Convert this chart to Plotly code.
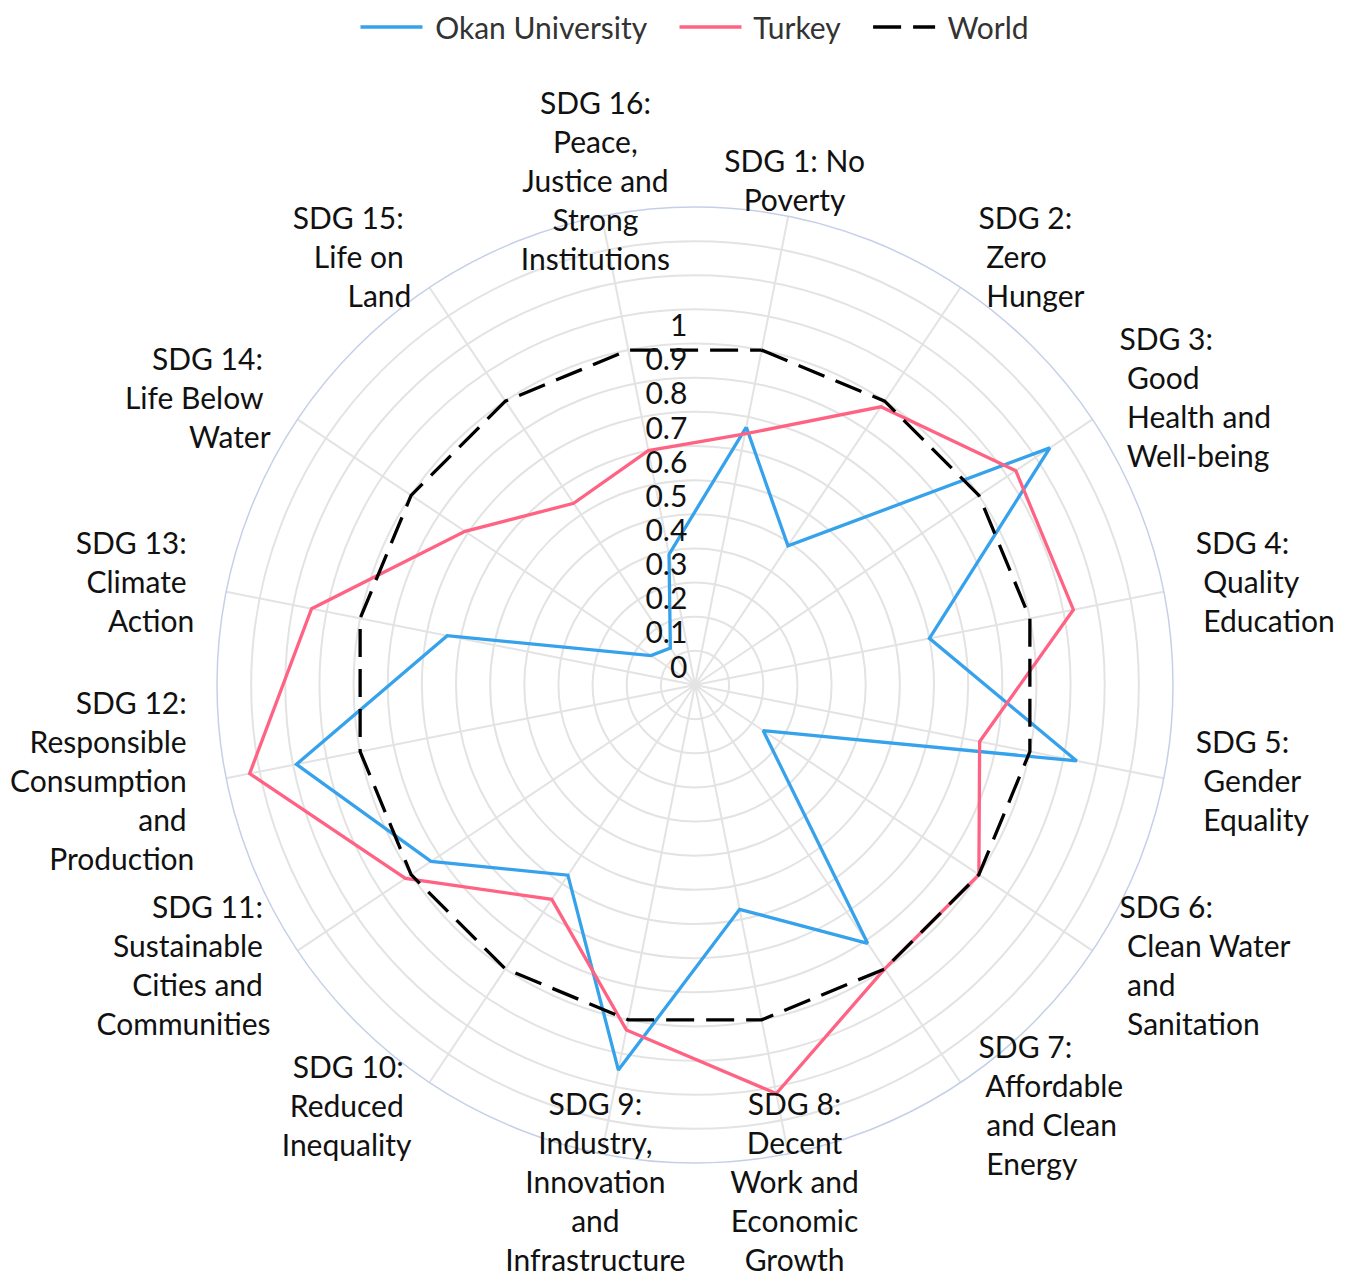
import math
import plotly.graph_objects as go

# ---------------- data ----------------
categories = [
    "SDG 1: No<br>Poverty",
    "SDG 2:<br>\u00a0Zero<br>\u00a0Hunger",
    "SDG 3:<br>\u00a0Good<br>\u00a0Health and<br>\u00a0Well-being",
    "SDG 4:<br>\u00a0Quality<br>\u00a0Education",
    "SDG 5:<br>\u00a0Gender<br>\u00a0Equality",
    "SDG 6:<br>\u00a0Clean Water<br>\u00a0and<br>\u00a0Sanitation",
    "SDG 7:<br>\u00a0Affordable<br>\u00a0and Clean<br>\u00a0Energy",
    "SDG 8:<br>Decent<br>Work and<br>Economic<br>Growth",
    "SDG 9:<br>Industry,<br>Innovation<br>and<br>Infrastructure",
    "SDG 10:\u00a0<br>Reduced\u00a0<br>Inequality",
    "SDG 11:\u00a0<br>Sustainable\u00a0<br>Cities and\u00a0<br>Communities",
    "SDG 12:\u00a0<br>Responsible\u00a0<br>Consumption\u00a0<br>and\u00a0<br>Production",
    "SDG 13:\u00a0<br>Climate\u00a0<br>Action",
    "SDG 14:\u00a0<br>Life Below\u00a0<br>Water",
    "SDG 15:\u00a0<br>Life on\u00a0<br>Land",
    "SDG 16:<br>Peace,<br>Justice and<br>Strong<br>Institutions",
]
okan   = [0.77, 0.49, 1.25, 0.70, 1.14, 0.24, 0.91, 0.67, 1.15, 0.67, 0.93, 1.19, 0.74, 0.155, 0.13, 0.39]
turkey = [0.75, 0.98, 1.13, 1.13, 0.85, 1.00, 1.00, 1.22, 1.03, 0.755, 1.02, 1.33, 1.145, 0.81, 0.64, 0.70]
world  = [1.0] * 16
series_names = ["Okan University", "Turkey", "World"]
radial_ticks = [0, 0.1, 0.2, 0.3, 0.4, 0.5, 0.6, 0.7, 0.8, 0.9, 1]
radial_tick_labels = ["0", "0.1", "0.2", "0.3", "0.4", "0.5", "0.6", "0.7", "0.8", "0.9", "1"]
grid_vals = [0.1 * k for k in range(1, 15)]

# ---------------- geometry / style ----------------
n = len(categories)
step = 360.0 / n
angles = [step * (i + 0.5) for i in range(n)]
R_MAX = 1.4            # outer circle of the chart
LABEL_R = 1.495        # where category labels sit
FONT = "Lato, 'Noto Sans', sans-serif"

W, H = 1349, 1278
CX, CY = 687, 677      # chart centre in figure pixels (page body adds 8px)
R_PX = 478             # outer circle radius in pixels
HALF = min(CY, H - CY, CX, W - CX)   # half-size of the outer (label) subplot
M_L, M_R = CX - HALF, W - (CX + HALF)
M_T, M_B = CY - HALF, H - (CY + HALF)
PLOT_H = 2 * HALF
f = R_PX / HALF
inner_dom = [0.5 - f / 2, 0.5 + f / 2]
R_OUTER = R_MAX * HALF / R_PX


def closed(v):
    return list(v) + [v[0]]


def label_pos(a):
    s = math.sin(math.radians(a))
    if abs(s) < 0.3:
        return "middle center"
    return "middle right" if s > 0 else "middle left"


theta_closed = closed(angles)
fig = go.Figure()

styles = [
    dict(color="#36a2eb", width=3.3),
    dict(color="#ff6384", width=3.3),
    dict(color="#000000", width=3.3, dash="28px,12px"),
]
pad = "\u00a0" * 3
for name, vals, st in zip(series_names, [okan, turkey, world], styles):
    fig.add_trace(go.Scatterpolar(
        r=closed(vals), theta=theta_closed, mode="lines",
        name="\u00a0" + name + (pad if name != "World" else ""),
        line=st, hoverinfo="skip", subplot="polar"))

# category labels around the chart (on a larger, invisible polar subplot)
fig.add_trace(go.Scatterpolar(
    r=[LABEL_R] * n, theta=angles, mode="text", text=categories,
    textposition=[label_pos(a) for a in angles],
    textfont=dict(family=FONT, size=30, color="#111111"),
    showlegend=False, hoverinfo="skip", subplot="polar2"))

# radial tick labels
fig.add_trace(go.Scatterpolar(
    r=radial_ticks, theta=[0] * len(radial_ticks), mode="text",
    text=[t + "\u00a0" for t in radial_tick_labels], textposition="top left",
    textfont=dict(family=FONT, size=30, color="#111111"),
    showlegend=False, hoverinfo="skip", subplot="polar2"))

fig.update_layout(
    width=W, height=H,
    margin=dict(l=M_L, r=M_R, t=M_T, b=M_B, autoexpand=False),
    paper_bgcolor="white", plot_bgcolor="white",
    font=dict(family=FONT, size=28, color="#333333"),
    polar=dict(
        domain=dict(x=inner_dom, y=inner_dom),
        bgcolor="white",
        radialaxis=dict(
            range=[0, R_MAX], tickmode="array", tickvals=grid_vals,
            showticklabels=False, ticks="", showline=False,
            gridcolor="#e3e3e3", gridwidth=1.5,
        ),
        angularaxis=dict(
            direction="clockwise", rotation=90, thetaunit="degrees",
            tickmode="array", tickvals=angles, showticklabels=False, ticks="",
            showline=True, linecolor="#c5d0e8", linewidth=1.5,
            gridcolor="#e3e3e3", gridwidth=1.5,
        ),
    ),
    polar2=dict(
        domain=dict(x=[0, 1], y=[0, 1]),
        bgcolor="rgba(0,0,0,0)",
        radialaxis=dict(range=[0, R_OUTER], visible=False),
        angularaxis=dict(direction="clockwise", rotation=90, thetaunit="degrees",
                         visible=False),
    ),
    legend=dict(
        orientation="h", x=0.5, xanchor="center", xref="paper",
        y=1 + (M_T + 7) / PLOT_H, yanchor="top", yref="paper",
        font=dict(family=FONT, size=30, color="#333333"),
        itemwidth=62,
    ),
    showlegend=True,
)

fig.write_html("out.html")
